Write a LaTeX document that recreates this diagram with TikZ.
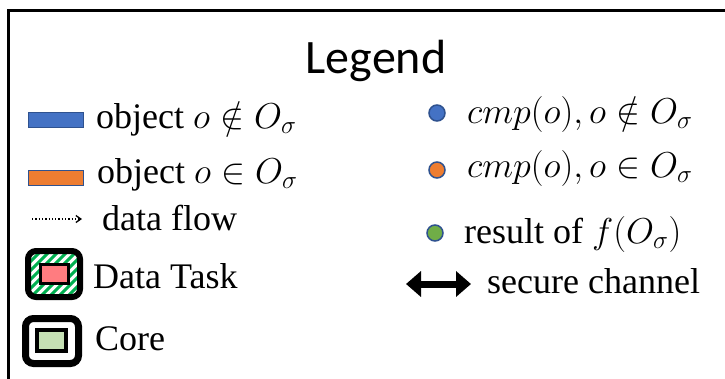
\RequirePackage{fix-cm}
\documentclass[tikz,border=0pt]{standalone}
\usepackage{fontspec}
\setmainfont{Liberation Serif}
\newfontfamily\legendfont{Carlito}
\newfontfamily\lblfont{Liberation Serif}
\usetikzlibrary{arrows.meta}
\definecolor{objblue}{HTML}{4472C4}
\definecolor{objorange}{HTML}{ED7D31}
\definecolor{objedge}{HTML}{2F528F}
\definecolor{resgreen}{HTML}{70AD47}
\definecolor{stripegreen}{HTML}{00B050}
\definecolor{taskred}{HTML}{FF7C80}
\definecolor{coregreen}{HTML}{C5E0B4}
\tikzset{
  lbl/.style={anchor=base west, inner sep=0pt, font=\lblfont\fontsize{36}{40}\selectfont},
  objbox/.style={draw=objedge, line width=1.5pt, minimum width=55pt, minimum height=15pt, inner sep=0pt},
  cdot/.style={circle, draw=objedge, line width=1.5pt, minimum size=16pt, inner sep=0pt},
  outerbox/.style={draw=black, rounded corners=8pt, inner sep=0pt},
  innerbox/.style={draw=black, inner sep=0pt},
}
\begin{document}
\begin{tikzpicture}[x=1pt,y=-1pt]
\useasboundingbox (0,0) rectangle (725,378);
% frame
\draw[line width=2.5pt] (725,10.5) -- (8.5,10.5) -- (8.5,380);
% title
\node[anchor=base, inner sep=0pt, font=\legendfont\fontsize{48}{52}\selectfont] (title) at (376,73) {Legend};
% left column
\node[objbox, fill=objblue] (ob1) at (56,120) {};
\node[lbl] (t1) at (96,128) {object $o\notin O_\sigma$};
\node[objbox, fill=objorange] (ob2) at (56,178) {};
\node[lbl] (t2) at (97,183) {object $o\in O_\sigma$};
\coordinate (df1) at (32,219);
\coordinate (df2) at (82,219);
\draw[dotted, line width=1.3pt, -{Straight Barb[length=5pt,width=7pt]}] (df1) -- (df2);
\node[lbl] (t3) at (102,230) {data flow};
% data task icon
\begin{scope}
  \clip[rounded corners=6pt] (28,251) rectangle (80,297);
  \foreach \k in {-60,-51,...,60} {
    \draw[stripegreen, line width=3pt] (28+\k,297) -- (80+\k,245);
  }
\end{scope}
\node[outerbox, line width=6pt, minimum width=52pt, minimum height=46pt] (dt) at (54,274) {};
\node[innerbox, line width=3.5pt, fill=taskred, minimum width=28pt, minimum height=19pt] (dtin) at (54.5,274) {};
\node[lbl] (t4) at (93,288) {Data Task};
% core icon
\node[outerbox, line width=7pt, minimum width=53pt, minimum height=45pt] (core) at (52,341) {};
\node[innerbox, line width=4pt, fill=coregreen, minimum width=29pt, minimum height=21pt] (corein) at (51.5,340.5) {};
\node[lbl] (t5) at (95,350) {Core};
% right column
\node[cdot, fill=objblue] (d1) at (437,113) {};
\node[lbl] (t6) at (467,123) {$cmp(o), o\notin O_\sigma$};
\node[cdot, fill=objorange] (d2) at (437,170) {};
\node[lbl] (t7) at (467,177) {$cmp(o), o\in O_\sigma$};
\node[cdot, fill=resgreen] (d3) at (435,233) {};
\node[lbl] (t8) at (464,243) {result of $f(O_\sigma)$};
\coordinate (sc1) at (406,284);
\coordinate (sc2) at (471,284);
\draw[line width=7pt, {Triangle[length=15pt,width=25pt]}-{Triangle[length=15pt,width=25pt]}] (sc1) -- (sc2);
\node[lbl] (t9) at (487,293) {secure channel};
\end{tikzpicture}
\end{document}
